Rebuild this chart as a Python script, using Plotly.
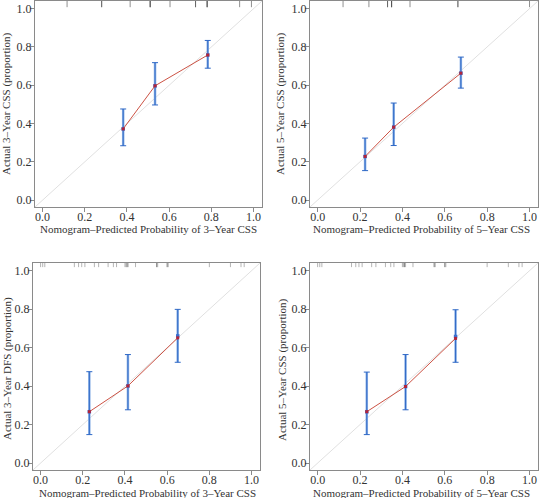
import plotly.graph_objects as go

# ---------------- data ----------------
# Panel 1: 3-year CSS (training)
p1_pred = [0.382, 0.533, 0.783]
p1_line = [0.372, 0.597, 0.758]
p1_obs = [0.372, 0.597, 0.758]
p1_lo = [0.284, 0.497, 0.689]
p1_hi = [0.476, 0.718, 0.834]
p1_rug = [0.116, 0.28, 0.28, 0.415, 0.51, 0.51, 0.51, 0.604, 0.725, 0.725, 0.78, 0.78, 0.78, 0.934, 0.99]

# Panel 2: 5-year CSS (training)
p2_pred = [0.224, 0.359, 0.676]
p2_line = [0.228, 0.381, 0.663]
p2_obs = [0.228, 0.381, 0.663]
p2_lo = [0.154, 0.285, 0.585]
p2_hi = [0.324, 0.507, 0.747]
p2_rug = [0.12, 0.242, 0.33, 0.33, 0.349, 0.349, 0.349, 0.436, 0.662, 0.662, 1.0]

# Panel 3: 3-year (validation)
p3_pred = [0.231, 0.414, 0.650]
p3_line = [0.267, 0.401, 0.651]
p3_obs = [0.267, 0.401, 0.661]
p3_lo = [0.148, 0.277, 0.524]
p3_hi = [0.475, 0.564, 0.799]
p3_rug = [0.0, 0.01, 0.02, 0.16, 0.18, 0.195, 0.21, 0.255, 0.275, 0.32, 0.345, 0.36,
          0.40, 0.405, 0.41, 0.415, 0.41, 0.45, 0.55, 0.555, 0.55, 0.60, 0.605, 0.60,
          0.80, 0.90, 0.95, 0.965]

# Panel 4: 5-year CSS (validation)
p4_pred = [0.232, 0.415, 0.651]
p4_line = [0.267, 0.398, 0.648]
p4_obs = [0.267, 0.398, 0.658]
p4_lo = [0.148, 0.277, 0.524]
p4_hi = [0.473, 0.564, 0.797]
p4_rug = [0.0, 0.01, 0.02, 0.16, 0.18, 0.195, 0.21, 0.255, 0.275, 0.32, 0.345, 0.36,
          0.40, 0.405, 0.41, 0.415, 0.41, 0.45, 0.55, 0.555, 0.55, 0.60, 0.605, 0.60,
          0.80, 0.90, 0.95, 0.965]

x_titles = ["Nomogram–Predicted Probability of 3–Year CSS",
            "Nomogram–Predicted Probability of 5–Year CSS",
            "Nomogram–Predicted Probability of 3–Year CSS",
            "Nomogram–Predicted Probability of 5–Year CSS"]
y_titles = ["Actual 3–Year CSS (proportion)",
            "Actual 5–Year CSS (proportion)",
            "Actual 3–Year DFS (proportion)",
            "Actual 5–Year CSS (proportion)"]
tick_vals = [0.0, 0.2, 0.4, 0.6, 0.8, 1.0]
tick_text = ["0.0", "0.2", "0.4", "0.6", "0.8", "1.0"]
diag = [-0.1, 1.1]

panels = [
    (p1_pred, p1_line, p1_obs, p1_lo, p1_hi, p1_rug),
    (p2_pred, p2_line, p2_obs, p2_lo, p2_hi, p2_rug),
    (p3_pred, p3_line, p3_obs, p3_lo, p3_hi, p3_rug),
    (p4_pred, p4_line, p4_obs, p4_lo, p4_hi, p4_rug),
]

W, H = 539, 498
# frame pixel boxes: (left, right, top, bottom)
boxes = [(35, 262, 1, 207), (310, 538, 1, 207), (33, 260, 263, 470), (310, 538, 263, 470)]
ytitle_pos = [(7, 104), (281, 104), (7, 369), (282, 370)]
xtitle_pos = [(148, 229), (421, 229), (147, 493), (421, 493)]
rug_len = [0.03, 0.03, 0.02, 0.02]
rug_col = ["rgba(70,70,70,0.6)", "rgba(70,70,70,0.6)", "rgba(90,90,90,0.45)", "rgba(90,90,90,0.45)"]

FONT = "Liberation Serif"
fig = go.Figure()
layout = dict(width=W, height=H, margin=dict(l=0, r=0, t=0, b=0),
              paper_bgcolor="white", plot_bgcolor="white", showlegend=False,
              font=dict(family=FONT, size=12, color="#333333"))
annotations = []
shapes = []

for i, (pred, line, obs, lo, hi, rug) in enumerate(panels):
    n = "" if i == 0 else str(i + 1)
    xa, ya = "x" + n, "y" + n
    l, r, t, b = boxes[i]
    axcommon = dict(range=[-0.036, 1.04], tickvals=tick_vals, ticktext=tick_text,
                    showgrid=False, zeroline=False, showline=True, mirror=True,
                    linecolor="#8a8a8a", linewidth=1, ticks="outside", ticklen=4,
                    tickcolor="#8a8a8a", tickfont=dict(family=FONT, size=12, color="#333333"))
    layout["xaxis" + n] = dict(axcommon, domain=[l / W, r / W], anchor=ya, ticklabelstandoff=-5)
    layout["yaxis" + n] = dict(axcommon, domain=[1 - b / H, 1 - t / H], anchor=xa, ticklabelstandoff=-4)

    # diagonal reference line
    fig.add_trace(go.Scatter(x=diag, y=diag, mode="lines", xaxis=xa, yaxis=ya,
                             line=dict(color="#e0e0e0", width=1), hoverinfo="skip"))
    # error bars: light thick body
    up = [h - o for h, o in zip(hi, obs)]
    dn = [o - lw for o, lw in zip(obs, lo)]
    fig.add_trace(go.Scatter(x=pred, y=obs, mode="markers", xaxis=xa, yaxis=ya,
                             marker=dict(size=1, color="rgba(0,0,0,0)"),
                             error_y=dict(type="data", symmetric=False, array=up, arrayminus=dn,
                                          color="#8db2e6", thickness=2.5, width=0)))
    fig.add_trace(go.Scatter(x=pred, y=obs, mode="markers", xaxis=xa, yaxis=ya,
                             marker=dict(size=1, color="rgba(0,0,0,0)"),
                             error_y=dict(type="data", symmetric=False, array=up, arrayminus=dn,
                                          color="#2e68c6", thickness=1, width=3)))
    # observed points (blue)
    fig.add_trace(go.Scatter(x=pred, y=obs, mode="markers", xaxis=xa, yaxis=ya,
                             marker=dict(size=3.5, color="#3b6fd0", symbol="square")))
    # calibration line (red)
    fig.add_trace(go.Scatter(x=pred, y=line, mode="lines+markers", xaxis=xa, yaxis=ya,
                             line=dict(color="#cc5244", width=1),
                             marker=dict(size=3, color="#b2243a", symbol="square")))
    # rug at top
    for v in rug:
        shapes.append(dict(type="line", xref=xa, yref=ya + " domain", x0=v, x1=v,
                           y0=1, y1=1 - rug_len[i], line=dict(color=rug_col[i], width=1)))

    yx, yy = ytitle_pos[i]
    annotations.append(dict(text=y_titles[i], x=yx / W, y=1 - yy / H, xref="paper", yref="paper",
                            textangle=-90, showarrow=False, xanchor="center", yanchor="middle",
                            font=dict(family=FONT, size=11, color="#333333")))
    xx, xy = xtitle_pos[i]
    annotations.append(dict(text=x_titles[i], x=xx / W, y=1 - xy / H, xref="paper", yref="paper",
                            showarrow=False, xanchor="center", yanchor="middle",
                            font=dict(family=FONT, size=11, color="#333333")))

layout["annotations"] = annotations
layout["shapes"] = shapes
fig.update_layout(**layout)
fig.write_html("out.html", config={"displayModeBar": False},
               post_script="document.body.style.margin='0px';document.body.style.overflow='hidden';")
